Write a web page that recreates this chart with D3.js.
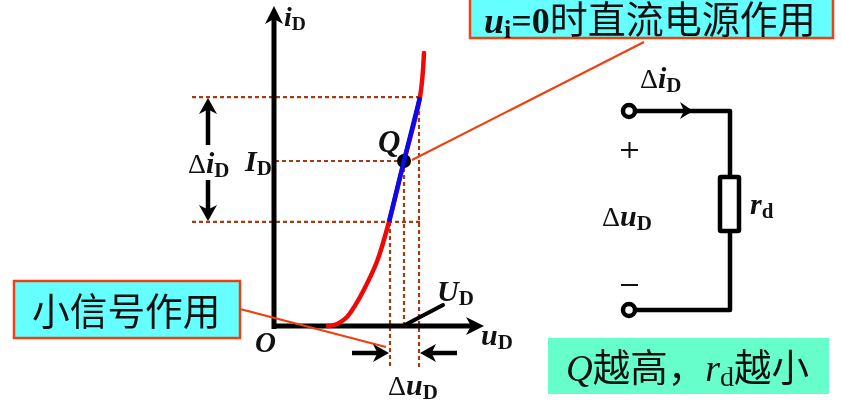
<!DOCTYPE html>
<html>
<head>
<meta charset="utf-8">
<script src="https://cdn.jsdelivr.net/npm/d3@7"></script>
<style>
  html, body { margin: 0; padding: 0; background: #fff; }
  svg { display: block; filter: blur(0.55px); }
</style>
</head>
<body>
<div id="chart"></div>
<script>
// Width and height for the SVG element
const w = 842;
const h = 407;

// Diode curve (u, i in axis fractions)
const curveU = [0.27, 0.30, 0.33, 0.365, 0.405, 0.445, 0.515, 0.575, 0.65, 0.73, 0.75];
const curveI = [0, 0.003, 0.012, 0.03, 0.068, 0.115, 0.215, 0.347, 0.55, 0.763, 0.91];

// Small signal part of the curve
const signalU = [0.575, 0.65, 0.73];
const signalI = [0.347, 0.55, 0.763];

// Q point
const qU = 0.65;
const qI = 0.55;

const redColor = "#f00808";
const blueColor = "#0a0aee";
const dashColor = "#a33c12";
const leaderColor = "#ee4010";

// Scales for the axes
const xScale = d3.scaleLinear().domain([0, 1]).range([274, 474]);
const yScale = d3.scaleLinear().domain([0, 1]).range([326, 26]);

const svg = d3.select("#chart")
    .append("svg")
    .attr("width", w)
    .attr("height", h);

svg.append("rect").attr("width", w).attr("height", h).attr("fill", "#fff");

const serif = "'Liberation Serif', serif";
const cjk = "'Noto Sans CJK SC', sans-serif";

// Draw a label from parts: [text, font, size, style, weight, dy]
function label(x, y, parts) {
    const t = svg.append("text").attr("x", x).attr("y", y).attr("fill", "#111");
    parts.forEach(p => {
        t.append("tspan")
            .attr("font-family", p[1])
            .attr("font-size", p[2])
            .attr("font-style", p[3])
            .attr("font-weight", p[4])
            .attr("dy", p[5] || 0)
            .text(p[0]);
    });
    return t;
}

// Subscripted variable: bold italic letter + bold subscript
function varLabel(x, y, letter, sub, delta, size) {
    const s = size || 30;
    const parts = [];
    if (delta) parts.push(["Δ", serif, 28, "normal", "normal", 0]);
    parts.push([letter, serif, s, "italic", "bold", 0]);
    parts.push([sub, serif, s * 0.7, "normal", "bold", 4]);
    return label(x, y, parts);
}

// Straight line with a filled head at its end
function arrow(x1, y1, x2, y2, width, headLen, headWidth, color) {
    const a = Math.atan2(y2 - y1, x2 - x1);
    svg.append("line")
        .attr("x1", x1).attr("y1", y1)
        .attr("x2", x2 - Math.cos(a) * headLen * 0.7)
        .attr("y2", y2 - Math.sin(a) * headLen * 0.7)
        .attr("stroke", color || "#000")
        .attr("stroke-width", width);
    svg.append("path")
        .attr("d", "M0,0L" + (-headLen) + "," + (-headWidth) + "L" + (-headLen * 0.72) + ",0L" + (-headLen) + "," + headWidth + "Z")
        .attr("transform", `translate(${x2},${y2}) rotate(${a * 180 / Math.PI})`)
        .attr("fill", color || "#000");
}

// Dashed guide lines
const guide = (x1, y1, x2, y2) => svg.append("line")
    .attr("x1", x1).attr("y1", y1).attr("x2", x2).attr("y2", y2)
    .attr("stroke", dashColor)
    .attr("stroke-width", 2.2)
    .attr("stroke-dasharray", "4,3");

const topY = yScale(signalI[2]);
const midY = yScale(qI);
const lowY = yScale(signalI[0]);
const leftX = xScale(signalU[0]);
const midX = xScale(qU);
const rightX = xScale(signalU[2]);

guide(192, topY, rightX + 1, topY);
guide(275, midY, midX, midY);
guide(192, lowY, rightX, lowY);
guide(leftX + 1, lowY, leftX + 1, 368);
guide(midX, midY, midX, 326);
guide(rightX - 1, topY, rightX - 1, 368);

// Axes
arrow(xScale(0), 329, xScale(0), 6, 5, 18, 9);
arrow(272, yScale(0), 484, yScale(0), 5, 18, 9);

// Curve
const line = d3.line()
    .x(d => xScale(d[0]))
    .y(d => yScale(d[1]))
    .curve(d3.curveCatmullRom);

svg.append("path")
    .datum(d3.zip(curveU, curveI))
    .attr("d", line)
    .attr("fill", "none")
    .attr("stroke", redColor)
    .attr("stroke-width", 4.5)
    .attr("stroke-linecap", "round");

// U_D tangent
svg.append("line")
    .attr("x1", 403).attr("y1", 326).attr("x2", 443).attr("y2", 305)
    .attr("stroke", "#000").attr("stroke-width", 4).attr("stroke-linecap", "round");

// Q point
svg.append("circle")
    .attr("cx", midX).attr("cy", midY).attr("r", 7).attr("fill", "#000");

svg.append("path")
    .datum(d3.zip(signalU, signalI))
    .attr("d", line)
    .attr("fill", "none")
    .attr("stroke", blueColor)
    .attr("stroke-width", 4.5);

// Leader lines
svg.append("line")
    .attr("x1", 412).attr("y1", 160).attr("x2", 644).attr("y2", 42)
    .attr("stroke", leaderColor).attr("stroke-width", 2.2);
svg.append("line")
    .attr("x1", 240).attr("y1", 309).attr("x2", 386).attr("y2", 347)
    .attr("stroke", leaderColor).attr("stroke-width", 2.2);

// Delta arrows
arrow(208, 145, 208, 98, 4.5, 16, 9);
arrow(208, 180, 208, 221, 4.5, 16, 9);
arrow(352, 353, 389, 353, 4.5, 16, 9);
arrow(457, 353, 420, 353, 4.5, 16, 9);

// Circuit
svg.append("path")
    .attr("d", "M635,111H730V176M730,232V310H635")
    .attr("fill", "none")
    .attr("stroke", "#000")
    .attr("stroke-width", 4.5)
    .attr("stroke-linejoin", "round");
svg.append("rect")
    .attr("x", 720).attr("y", 177).attr("width", 19).attr("height", 54)
    .attr("fill", "#fff").attr("stroke", "#000").attr("stroke-width", 4.5).attr("rx", 1);
[111, 310].forEach(cy => svg.append("circle")
    .attr("cx", 629).attr("cy", cy).attr("r", 6)
    .attr("fill", "#fff").attr("stroke", "#000").attr("stroke-width", 4.5));
svg.append("path")
    .attr("d", "M680,102L693,111L680,119L684,111Z")
    .attr("fill", "#000");
svg.append("path")
    .attr("d", "M621,150H638M629.5,142V158")
    .attr("stroke", "#111").attr("stroke-width", 2).attr("fill", "none");
svg.append("line")
    .attr("x1", 621).attr("y1", 285).attr("x2", 638).attr("y2", 285)
    .attr("stroke", "#111").attr("stroke-width", 2);

// Call-out boxes
const boxes = [
    { x: 470, y: -4, w: 363, h: 42, fill: "#66ffff", stroke: leaderColor },
    { x: 14, y: 281, w: 226, h: 57, fill: "#66ffff", stroke: leaderColor },
    { x: 548, y: 338, w: 281, h: 56, fill: "#66ffcc", stroke: "none" }
];
boxes.forEach(b => svg.append("rect")
    .attr("x", b.x).attr("y", b.y).attr("width", b.w).attr("height", b.h)
    .attr("fill", b.fill)
    .attr("stroke", b.stroke)
    .attr("stroke-width", 2.5));

// Labels
varLabel(284, 26, "i", "D", false, 28);
varLabel(245, 171, "I", "D");
varLabel(188, 173, "i", "D", true);
label(378, 152, [["Q", serif, 31, "italic", "bold", 0]]);
label(255, 352, [["O", serif, 29, "italic", "bold", 0]]);
varLabel(481, 345, "u", "D");
varLabel(437, 301, "U", "D");
varLabel(388, 395, "u", "D", true);
varLabel(640, 88, "i", "D", true);
varLabel(602, 226, "u", "D", true);
varLabel(750, 214, "r", "d");

label(484, 33, [
    ["u", serif, 36, "italic", "bold", 0],
    ["i", serif, 26, "normal", "bold", 5],
    ["=0", serif, 36, "normal", "bold", -5],
    ["时直流电源作用", cjk, 38, "normal", "normal", 0]
]);
label(32, 325, [["小信号作用", cjk, 37.7, "normal", "normal", 0]]);
label(566, 381, [
    ["Q", serif, 37, "italic", "normal", 0],
    ["越高，", cjk, 37.5, "normal", "normal", 0],
    ["r", serif, 38, "italic", "normal", 0],
    ["d", serif, 28, "normal", "normal", 5],
    ["越小", cjk, 37.5, "normal", "normal", -5]
]);
</script>
</body>
</html>
